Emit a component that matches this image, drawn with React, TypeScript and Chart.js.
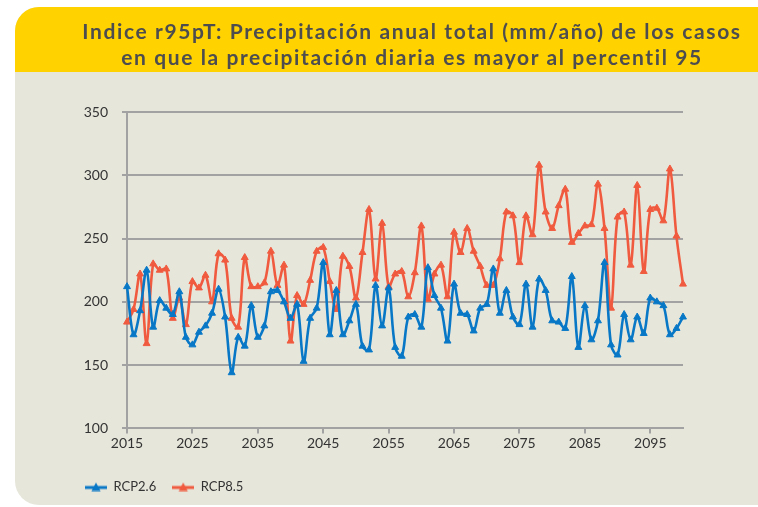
import React, { useEffect, useRef } from "react";
import { Chart, registerables } from "chart.js";

Chart.register(...registerables);

const years: string[] = Array.from({ length: 86 }, (_, i) => String(2015 + i));

const xTickLabels = ["2015", "2025", "2035", "2045", "2055", "2065", "2075", "2085", "2095"];

const rcp26 = [
  212, 174, 193, 225, 180, 201, 195, 190, 208, 172,
  166, 176, 181, 191, 210, 188, 144, 172, 165, 197,
  172, 181, 208, 209, 200, 187, 198, 153, 187, 195,
  231, 174, 209, 174, 185, 198, 165, 162, 213, 181,
  211, 164, 157, 188, 190, 180, 227, 205, 195, 169,
  214, 191, 190, 177, 195, 198, 226, 191, 209, 188,
  182, 214, 180, 218, 209, 185, 184, 179, 220, 164,
  197, 170, 185, 231, 166, 158, 190, 170, 188, 175,
  203, 200, 197, 174, 179, 188,
];

const rcp85 = [
  184, 194, 222, 167, 230, 225, 226, 187, 203, 182,
  216, 211, 221, 200, 238, 233, 187, 180, 235, 212,
  212, 215, 240, 213, 229, 169, 205, 198, 217, 240,
  243, 216, 194, 236, 228, 203, 239, 273, 218, 262,
  212, 222, 224, 204, 223, 260, 202, 222, 229, 204,
  255, 239, 258, 240, 228, 213, 213, 234, 271, 268,
  231, 268, 253, 308, 271, 258, 276, 289, 247, 254,
  260, 261, 293, 258, 195, 267, 271, 229, 292, 224,
  273, 274, 264, 305, 252, 214,
];

const seriesNames = ["RCP2.6", "RCP8.5"];

const BLUE = "#0878C6";
const RED = "#F05A3E";
const GRID = "#a2a2a2";
const TEXT = "#333333";
const FONT = "Lato";

function makeIcon(color: string): HTMLCanvasElement {
  const c = document.createElement("canvas");
  c.width = 22;
  c.height = 10;
  const g = c.getContext("2d")!;
  g.strokeStyle = color;
  g.lineWidth = 3;
  g.beginPath();
  g.moveTo(0, 6);
  g.lineTo(22, 6);
  g.stroke();
  g.fillStyle = color;
  g.beginPath();
  g.moveTo(11, 1);
  g.lineTo(15.5, 9.5);
  g.lineTo(6.5, 9.5);
  g.closePath();
  g.fill();
  return c;
}

export default function App() {
  const ref = useRef<HTMLCanvasElement | null>(null);

  useEffect(() => {
    if (!ref.current) return;
    const icons = [makeIcon(BLUE), makeIcon(RED)];
    const chart = new Chart(ref.current, {
      type: "line",
      data: {
        labels: years,
        datasets: [
          {
            label: seriesNames[0],
            data: rcp26,
            borderColor: BLUE,
            backgroundColor: BLUE,
            borderWidth: 2.6,
            pointStyle: "triangle",
            pointRadius: 4,
            pointBorderWidth: 1,
            pointBackgroundColor: BLUE,
            pointBorderColor: BLUE,
            tension: 0.35,
          },
          {
            label: seriesNames[1],
            data: rcp85,
            borderColor: RED,
            backgroundColor: RED,
            borderWidth: 2.6,
            pointStyle: "triangle",
            pointRadius: 4,
            pointBorderWidth: 1,
            pointBackgroundColor: RED,
            pointBorderColor: RED,
            tension: 0.35,
          },
        ],
      },
      options: {
        animation: false,
        responsive: false,
        layout: { padding: { left: 54, right: 75, top: 40, bottom: 2 } },
        plugins: {
          legend: {
            position: "bottom",
            align: "start",
            labels: {
              usePointStyle: true,
              pointStyleWidth: 22,
              padding: 16,
              color: TEXT,
              font: { family: FONT, size: 13 },
              generateLabels: (c: any) => {
                const items = (Chart.defaults.plugins.legend.labels as any).generateLabels(c);
                return items.map((it: any, i: number) => ({ ...it, pointStyle: icons[i] }));
              },
            },
          },
          tooltip: { enabled: false },
        },
        scales: {
          x: {
            type: "category",
            offset: false,
            grid: {
              drawOnChartArea: false,
              tickLength: 5,
              lineWidth: 2,
              color: (ctx: any) =>
                xTickLabels.includes(years[ctx.index]) ? GRID : "rgba(0,0,0,0)",
            },
            border: { color: GRID, width: 2 },
            ticks: {
              autoSkip: false,
              maxRotation: 0,
              padding: 2,
              color: TEXT,
              font: { family: FONT, size: 14 },
              callback: (_v: any, i: number) =>
                xTickLabels.includes(years[i]) ? years[i] : "",
            },
            afterFit: (s: any) => {
              s.height = 35.6;
            },
          },
          y: {
            min: 100,
            max: 350,
            ticks: {
              stepSize: 50,
              padding: 14,
              color: TEXT,
              font: { family: FONT, size: 14 },
            },
            grid: { color: GRID, lineWidth: 2, tickLength: 5 },
            border: { color: GRID, width: 2 },
            afterFit: (s: any) => {
              s.width = 58;
            },
          },
        },
      },
    } as any);
    return () => chart.destroy();
  }, []);

  return (
    <div
      style={{
        position: "fixed",
        left: 15,
        top: 7,
        width: 743,
        height: 498,
        borderRadius: "24px 0 0 24px",
        overflow: "hidden",
        background: "#E7E6DB",
      }}
    >
      <div
        style={{
          position: "absolute",
          left: 0,
          top: 0,
          width: 743,
          height: 65,
          background: "#FFD200",
          overflow: "hidden",
        }}
      >
        <div
          style={{
            position: "absolute",
            left: 0,
            top: 11,
            width: 794,
            textAlign: "center",
            fontFamily: FONT,
            fontWeight: 700,
            fontSize: 21,
            lineHeight: "26px",
            letterSpacing: "1.6px",
            color: "#4D4D4F",
            whiteSpace: "nowrap",
          }}
        >
          Indice r95pT: Precipitación anual total (mm/año) de los casos
          <br />
          en que la precipitación diaria es mayor al percentil 95
        </div>
      </div>
      <div style={{ position: "absolute", left: 0, top: 65, width: 743, height: 433 }}>
        <canvas ref={ref} width={743} height={433} style={{ display: "block" }} />
      </div>
    </div>
  );
}
